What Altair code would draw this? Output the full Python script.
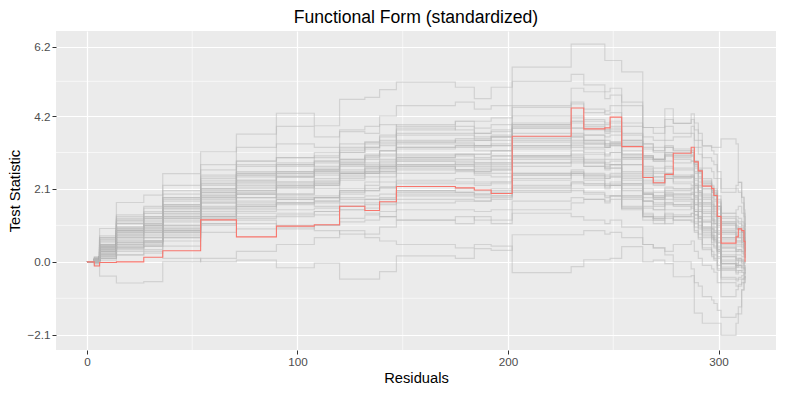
import altair as alt
import pandas as pd

# shared jump positions (residual index)
breaks_x = [0, 3.5, 6, 14, 27, 36, 54, 71, 90, 108,
            120, 132, 139, 147, 175, 184, 192, 202, 230, 236,
            246, 248.5, 254, 264, 269, 274.5, 278.5, 287, 288.5, 290.4,
            292.3, 296.7, 297.8, 299.4, 301.2, 308.3, 309.4, 311, 312.1, 312.6]

observed = [0.0, -0.12, -0.02, 0.0, 0.13, 0.32, 1.21, 0.72, 1.03, 1.07,
            1.60, 1.48, 1.73, 2.17, 2.13, 2.07, 1.97, 3.62, 4.43, 3.83,
            3.86, 4.17, 3.32, 2.43, 2.28, 2.52, 3.13, 3.30, 2.88, 2.62,
            2.18, 2.11, 1.91, 1.31, 0.54, 0.72, 0.95, 0.90, 0.59, 0.0]

sim_paths = [
    [0.0, 0.15, 0.96, 1.71, 1.92, 2.54, 3.17, 3.68, 3.90, 3.60,
     3.75, 3.70, 3.95, 3.90, 4.05, 3.85, 3.95, 4.20, 4.60, 4.30,
     4.35, 4.50, 4.00, 3.40, 3.30, 3.50, 3.60, 3.70, 3.30, 3.10,
     2.70, 2.60, 2.40, 1.90, 1.40, 1.50, 1.60, 1.40, 1.10, 0.60],
    [0.0, 0.10, 0.70, 1.30, 1.60, 2.20, 2.80, 3.30, 4.28, 3.92,
     4.68, 4.74, 4.96, 5.18, 5.03, 4.70, 5.03, 5.20, 5.40, 5.10,
     4.90, 5.00, 4.60, 3.87, 3.70, 4.10, 3.99, 4.10, 3.80, 3.50,
     3.34, 3.20, 3.10, 2.60, 2.10, 2.20, 2.29, 1.86, 1.40, 0.80],
    [0.0, 0.05, 0.50, 1.00, 1.30, 1.80, 2.40, 2.90, 3.40, 3.30,
     3.80, 3.90, 4.20, 4.50, 4.60, 4.40, 4.50, 5.61, 6.27, 6.27,
     5.80, 5.80, 5.47, 3.60, 3.50, 3.90, 3.70, 3.90, 3.50, 3.30,
     3.00, 2.90, 2.80, 2.40, 2.00, 2.10, 2.00, 1.70, 1.30, 0.70],
    [0.0, 0.10, 0.40, 0.90, 1.10, 1.60, 2.10, 2.50, 2.80, 2.90,
     3.20, 3.40, 3.50, 3.80, 3.90, 3.70, 3.80, 4.50, 5.00, 4.90,
     4.70, 4.80, 4.50, 3.87, 3.87, 4.41, 3.99, 4.26, 4.00, 3.70,
     3.34, 3.30, 3.30, 3.30, 3.54, 3.40, 2.29, 1.86, 1.50, 1.00],
    [0.0, -0.10, -0.41, -0.61, -0.57, 0.00, 0.10, 0.30, 0.50, 0.70,
     0.90, 0.80, 1.00, 1.20, 1.10, 1.30, 1.20, 1.50, 1.70, 1.80,
     1.70, 1.90, 1.50, 1.30, 1.20, 1.10, 1.30, 1.40, 1.10, 1.00,
     0.80, 0.70, 0.60, 0.30, -0.20, -0.10, 0.10, 0.00, -0.10, -0.30],
    [0.0, 0.00, 0.10, 0.20, 0.30, 0.10, 0.00, 0.05, -0.17, -0.04,
     -0.50, -0.50, -0.28, 0.17, 0.10, 0.38, 0.33, 0.78, 0.78, 0.90,
     0.80, 0.85, 0.70, 0.50, 0.40, 0.30, 0.50, 0.60, 0.30, 0.10,
     -0.10, -0.20, -0.30, -0.60, -1.00, -0.80, -0.70, -0.50, -0.30, -0.10],
    [0.0, 0.05, 0.20, 0.40, 0.60, 0.90, 1.10, 1.20, 1.00, 0.90,
     0.80, 0.70, 0.60, 0.50, 0.40, 0.50, 0.45, -0.31, -0.14, 0.06,
     0.06, 0.10, 0.44, 0.00, 0.05, -0.05, -0.43, -0.40, -0.60, -0.70,
     -1.00, -1.10, -1.20, -1.40, -1.60, -1.50, -1.30, -0.81, -0.60, -0.40],
    [0.0, 0.05, 0.30, 0.60, 0.70, 1.00, 1.30, 1.50, 1.70, 1.60,
     1.50, 1.40, 1.30, 1.20, 1.30, 1.20, 1.10, 1.40, 1.30, 1.20,
     1.10, 1.20, 1.00, 0.50, 0.40, 0.20, 0.00, -0.20, -1.48, -1.48,
     -1.77, -1.77, -1.77, -1.77, -2.12, -1.77, -1.50, -0.81, -0.60, -0.30],
    [0.0, 0.10, 0.70, 1.25, 1.40, 1.85, 2.45, 2.80, 3.00, 3.15,
     3.40, 3.45, 3.60, 3.85, 3.80, 3.70, 3.75, 4.00, 4.05, 3.95,
     3.80, 3.90, 3.50, 3.05, 2.90, 3.05, 2.95, 2.90, 2.55, 2.30,
     1.95, 1.75, 1.60, 1.30, 0.85, 0.75, 0.70, 0.60, 0.45, 0.30],
    [0.0, 0.00, 0.15, 0.40, 0.45, 0.70, 1.20, 1.30, 1.35, 1.45,
     1.60, 1.70, 1.80, 2.00, 2.00, 1.95, 2.00, 2.20, 2.30, 2.25,
     2.15, 2.20, 1.90, 1.60, 1.50, 1.65, 1.65, 1.70, 1.45, 1.30,
     1.00, 0.85, 0.75, 0.45, 0.05, -0.05, 0.00, -0.05, -0.10, -0.10],
    [0.0, 0.05, 0.50, 0.95, 1.10, 1.55, 2.10, 2.30, 2.45, 2.60,
     2.85, 2.95, 3.05, 3.30, 3.35, 3.35, 3.40, 3.70, 3.85, 3.80,
     3.70, 3.75, 3.40, 3.00, 2.90, 3.05, 3.00, 3.05, 2.75, 2.55,
     2.20, 2.00, 1.90, 1.60, 1.10, 0.95, 0.90, 0.80, 0.60, 0.45],
    [0.0, 0.00, 0.25, 0.55, 0.60, 0.90, 1.40, 1.60, 1.65, 1.70,
     1.85, 1.90, 1.95, 2.05, 2.00, 1.90, 1.90, 2.05, 2.10, 2.00,
     1.90, 1.90, 1.55, 1.20, 1.10, 1.25, 1.20, 1.20, 0.90, 0.70,
     0.40, 0.20, 0.10, -0.20, -0.50, -0.55, -0.50, -0.50, -0.45, -0.40],
    [0.0, 0.05, 0.45, 0.90, 1.05, 1.45, 2.00, 2.20, 2.30, 2.40,
     2.55, 2.60, 2.65, 2.75, 2.65, 2.55, 2.55, 2.75, 2.85, 2.75,
     2.70, 2.80, 2.55, 2.25, 2.20, 2.40, 2.40, 2.45, 2.20, 2.00,
     1.70, 1.55, 1.45, 1.15, 0.70, 0.60, 0.60, 0.55, 0.40, 0.30],
    [0.0, -0.05, 0.05, 0.20, 0.25, 0.45, 0.85, 0.95, 0.95, 1.05,
     1.25, 1.35, 1.45, 1.70, 1.75, 1.75, 1.85, 2.10, 2.25, 2.20,
     2.10, 2.20, 1.90, 1.55, 1.50, 1.70, 1.65, 1.65, 1.35, 1.15,
     0.85, 0.65, 0.55, 0.25, -0.15, -0.25, -0.25, -0.25, -0.25, -0.20],
    [0.0, 0.10, 0.60, 1.10, 1.25, 1.65, 2.25, 2.60, 2.85, 3.00,
     3.30, 3.45, 3.65, 3.95, 4.05, 4.05, 4.15, 4.45, 4.55, 4.40,
     4.25, 4.30, 3.90, 3.40, 3.20, 3.30, 3.20, 3.15, 2.80, 2.60,
     2.25, 2.05, 1.95, 1.60, 1.15, 1.00, 0.95, 0.85, 0.70, 0.50],
    [0.0, 0.05, 0.40, 0.75, 0.85, 1.20, 1.70, 1.85, 1.90, 1.90,
     2.05, 2.10, 2.15, 2.30, 2.30, 2.25, 2.30, 2.55, 2.65, 2.55,
     2.50, 2.55, 2.25, 1.95, 1.90, 2.10, 2.10, 2.15, 1.90, 1.70,
     1.45, 1.25, 1.15, 0.85, 0.45, 0.35, 0.35, 0.30, 0.20, 0.10],
    [0.0, 0.05, 0.45, 0.95, 1.15, 1.55, 2.10, 2.35, 2.45, 2.50,
     2.65, 2.70, 2.75, 2.90, 2.90, 2.80, 2.85, 3.00, 3.05, 2.85,
     2.70, 2.70, 2.25, 1.75, 1.60, 1.70, 1.60, 1.55, 1.25, 1.05,
     0.75, 0.55, 0.45, 0.15, -0.20, -0.30, -0.25, -0.30, -0.35, -0.30],
    [0.0, 0.05, 0.35, 0.65, 0.75, 1.05, 1.60, 1.85, 1.95, 2.10,
     2.40, 2.55, 2.70, 3.00, 3.10, 3.10, 3.20, 3.45, 3.60, 3.50,
     3.40, 3.45, 3.10, 2.70, 2.60, 2.75, 2.70, 2.70, 2.40, 2.20,
     1.90, 1.70, 1.60, 1.30, 0.90, 0.80, 0.80, 0.70, 0.55, 0.40],
    [0.0, 0.10, 0.60, 1.15, 1.30, 1.75, 2.30, 2.50, 2.55, 2.60,
     2.75, 2.80, 2.80, 2.90, 2.80, 2.65, 2.65, 2.85, 2.90, 2.75,
     2.65, 2.70, 2.35, 1.95, 1.85, 2.00, 1.95, 1.95, 1.65, 1.45,
     1.15, 0.95, 0.85, 0.55, 0.15, 0.05, 0.05, 0.05, 0.00, -0.05],
    [0.0, 0.00, 0.20, 0.45, 0.50, 0.75, 1.25, 1.40, 1.40, 1.45,
     1.60, 1.65, 1.70, 1.90, 1.90, 1.85, 1.90, 2.15, 2.30, 2.25,
     2.20, 2.30, 2.05, 1.75, 1.70, 1.90, 1.90, 1.95, 1.65, 1.45,
     1.15, 0.95, 0.85, 0.55, 0.15, 0.05, 0.05, 0.00, -0.05, -0.05],
    [0.0, 0.05, 0.40, 0.85, 0.95, 1.35, 1.95, 2.25, 2.45, 2.65,
     2.95, 3.10, 3.20, 3.40, 3.40, 3.30, 3.35, 3.60, 3.65, 3.50,
     3.40, 3.40, 3.05, 2.60, 2.45, 2.55, 2.45, 2.45, 2.10, 1.90,
     1.60, 1.40, 1.30, 1.00, 0.60, 0.50, 0.50, 0.45, 0.30, 0.20],
    [0.0, 0.00, 0.30, 0.70, 0.80, 1.15, 1.70, 1.95, 2.10, 2.25,
     2.55, 2.65, 2.75, 2.95, 2.95, 2.85, 2.85, 3.05, 3.10, 2.95,
     2.80, 2.80, 2.40, 1.95, 1.80, 1.90, 1.80, 1.80, 1.50, 1.30,
     1.00, 0.80, 0.70, 0.40, 0.00, -0.10, -0.10, -0.15, -0.20, -0.20],
    [0.0, 0.10, 0.75, 1.35, 1.55, 2.05, 2.65, 2.90, 3.00, 3.05,
     3.25, 3.30, 3.35, 3.50, 3.45, 3.35, 3.35, 3.55, 3.60, 3.45,
     3.30, 3.35, 2.95, 2.55, 2.45, 2.55, 2.50, 2.50, 2.20, 2.00,
     1.70, 1.50, 1.40, 1.10, 0.70, 0.60, 0.60, 0.55, 0.40, 0.30],
    [0.0, 0.00, 0.30, 0.55, 0.60, 0.95, 1.50, 1.70, 1.80, 1.85,
     2.05, 2.20, 2.30, 2.55, 2.60, 2.60, 2.70, 3.05, 3.30, 3.30,
     3.30, 3.40, 3.20, 2.95, 2.95, 3.15, 3.15, 3.20, 2.90, 2.70,
     2.40, 2.20, 2.10, 1.80, 1.40, 1.30, 1.25, 1.15, 0.95, 0.70],
    [0.0, 0.05, 0.45, 0.95, 1.05, 1.45, 1.90, 1.95, 1.85, 1.75,
     1.80, 1.80, 1.80, 1.95, 1.95, 1.95, 2.05, 2.35, 2.50, 2.45,
     2.40, 2.45, 2.20, 1.85, 1.80, 1.95, 1.95, 2.00, 1.70, 1.50,
     1.20, 1.00, 0.90, 0.60, 0.20, 0.10, 0.10, 0.05, 0.00, -0.05],
    [0.0, -0.05, 0.10, 0.30, 0.35, 0.60, 1.05, 1.10, 1.05, 1.05,
     1.15, 1.20, 1.30, 1.50, 1.50, 1.45, 1.50, 1.75, 1.85, 1.80,
     1.75, 1.80, 1.55, 1.30, 1.30, 1.50, 1.50, 1.60, 1.35, 1.15,
     0.90, 0.70, 0.60, 0.30, -0.05, -0.15, -0.15, -0.20, -0.20, -0.15],
    [0.0, 0.10, 0.55, 1.10, 1.25, 1.65, 2.25, 2.45, 2.55, 2.70,
     2.95, 3.05, 3.20, 3.45, 3.50, 3.50, 3.60, 3.95, 4.15, 4.05,
     3.95, 4.00, 3.65, 3.25, 3.15, 3.30, 3.20, 3.20, 2.85, 2.60,
     2.25, 2.00, 1.90, 1.55, 1.10, 0.95, 0.95, 0.85, 0.65, 0.50],
    [0.0, 0.00, 0.20, 0.50, 0.55, 0.85, 1.35, 1.55, 1.70, 1.85,
     2.10, 2.30, 2.45, 2.70, 2.75, 2.75, 2.80, 3.05, 3.20, 3.15,
     3.05, 3.15, 2.80, 2.45, 2.35, 2.50, 2.45, 2.45, 2.15, 1.95,
     1.65, 1.45, 1.35, 1.05, 0.65, 0.55, 0.55, 0.50, 0.35, 0.25],
    [0.0, 0.05, 0.45, 0.90, 1.00, 1.40, 2.00, 2.35, 2.60, 2.85,
     3.15, 3.30, 3.45, 3.70, 3.70, 3.60, 3.65, 3.85, 3.85, 3.65,
     3.50, 3.45, 3.00, 2.50, 2.30, 2.40, 2.25, 2.20, 1.90, 1.70,
     1.40, 1.20, 1.10, 0.80, 0.40, 0.30, 0.30, 0.25, 0.15, 0.10],
    [0.0, 0.00, 0.30, 0.55, 0.60, 0.90, 1.45, 1.60, 1.70, 1.75,
     1.95, 2.05, 2.15, 2.35, 2.40, 2.30, 2.30, 2.50, 2.55, 2.40,
     2.25, 2.25, 1.85, 1.40, 1.25, 1.35, 1.30, 1.30, 1.00, 0.80,
     0.50, 0.30, 0.20, -0.10, -0.45, -0.50, -0.45, -0.40, -0.35, -0.30],
    [0.0, 0.00, 0.10, 0.35, 0.45, 0.80, 1.30, 1.65, 1.95, 2.20,
     2.55, 2.75, 2.95, 3.25, 3.35, 3.35, 3.50, 3.85, 4.05, 3.90,
     3.80, 3.85, 3.50, 3.05, 2.95, 3.10, 3.05, 3.10, 2.80, 2.60,
     2.30, 2.10, 2.00, 1.70, 1.25, 1.15, 1.10, 1.00, 0.80, 0.55],
    [0.0, 0.10, 0.65, 1.20, 1.45, 1.95, 2.50, 2.75, 2.80, 2.75,
     2.80, 2.75, 2.70, 2.75, 2.65, 2.50, 2.45, 2.55, 2.55, 2.35,
     2.20, 2.20, 1.80, 1.35, 1.20, 1.30, 1.20, 1.15, 0.85, 0.65,
     0.35, 0.15, 0.05, -0.25, -0.60, -0.70, -0.65, -0.60, -0.50, -0.40],
    [0.0, 0.05, 0.35, 0.80, 0.95, 1.30, 1.85, 2.15, 2.25, 2.35,
     2.60, 2.60, 2.75, 3.00, 3.05, 2.95, 3.05, 3.30, 3.40, 3.25,
     3.10, 3.15, 2.80, 2.35, 2.25, 2.40, 2.30, 2.30, 2.00, 1.80,
     1.50, 1.30, 1.20, 0.90, 0.50, 0.45, 0.45, 0.40, 0.25, 0.15],
    [0.0, 0.05, 0.50, 1.00, 1.20, 1.60, 2.20, 2.55, 2.75, 2.90,
     3.15, 3.25, 3.40, 3.65, 3.65, 3.55, 3.60, 3.90, 4.00, 3.85,
     3.75, 3.80, 3.45, 3.05, 2.95, 3.10, 3.05, 3.05, 2.70, 2.45,
     2.10, 1.85, 1.75, 1.40, 0.95, 0.85, 0.85, 0.75, 0.60, 0.45],
    [0.0, 0.00, 0.25, 0.50, 0.55, 0.85, 1.30, 1.45, 1.50, 1.55,
     1.70, 1.80, 1.85, 2.05, 2.10, 2.05, 2.10, 2.40, 2.55, 2.50,
     2.45, 2.50, 2.25, 1.95, 1.90, 2.05, 2.05, 2.10, 1.85, 1.65,
     1.40, 1.20, 1.10, 0.80, 0.40, 0.30, 0.35, 0.30, 0.20, 0.10],
    [0.0, 0.05, 0.40, 0.85, 1.00, 1.40, 1.90, 2.05, 2.15, 2.30,
     2.50, 2.55, 2.60, 2.80, 2.85, 2.85, 2.95, 3.25, 3.45, 3.40,
     3.30, 3.35, 3.00, 2.65, 2.55, 2.70, 2.65, 2.65, 2.35, 2.15,
     1.85, 1.65, 1.55, 1.25, 0.85, 0.75, 0.75, 0.65, 0.50, 0.35],
    [0.0, 0.00, 0.15, 0.45, 0.55, 0.95, 1.55, 1.95, 2.30, 2.55,
     2.85, 3.00, 3.10, 3.30, 3.30, 3.20, 3.20, 3.35, 3.35, 3.10,
     2.95, 2.95, 2.50, 2.00, 1.85, 1.95, 1.85, 1.80, 1.45, 1.25,
     0.95, 0.75, 0.65, 0.35, -0.05, -0.15, -0.10, -0.15, -0.20, -0.20],
    [0.0, 0.10, 0.65, 1.20, 1.40, 1.85, 2.35, 2.55, 2.60, 2.65,
     2.80, 2.85, 2.90, 3.10, 3.10, 3.00, 3.05, 3.35, 3.50, 3.40,
     3.35, 3.40, 3.10, 2.75, 2.70, 2.90, 2.85, 2.90, 2.60, 2.40,
     2.10, 1.90, 1.80, 1.50, 1.05, 0.95, 0.95, 0.85, 0.70, 0.50],
    [0.0, 0.05, 0.30, 0.70, 0.85, 1.25, 1.75, 2.00, 2.15, 2.20,
     2.35, 2.45, 2.55, 2.65, 2.65, 2.60, 2.65, 2.85, 2.95, 2.85,
     2.75, 2.80, 2.45, 2.10, 2.00, 2.15, 2.10, 2.10, 1.80, 1.60,
     1.30, 1.10, 1.00, 0.70, 0.30, 0.20, 0.20, 0.15, 0.05, 0.00],
    [0.0, 0.05, 0.40, 0.80, 0.90, 1.30, 1.80, 2.05, 2.20, 2.30,
     2.55, 2.70, 2.85, 3.05, 3.10, 3.10, 3.20, 3.50, 3.70, 3.65,
     3.60, 3.65, 3.35, 3.00, 2.95, 3.15, 3.10, 3.15, 2.85, 2.65,
     2.35, 2.15, 2.05, 1.75, 1.30, 1.20, 1.15, 1.05, 0.85, 0.60],
    [0.0, 0.00, 0.20, 0.40, 0.45, 0.70, 1.10, 1.25, 1.30, 1.35,
     1.50, 1.55, 1.65, 1.80, 1.80, 1.75, 1.80, 2.00, 2.05, 1.95,
     1.85, 1.90, 1.60, 1.30, 1.25, 1.40, 1.35, 1.40, 1.15, 0.95,
     0.70, 0.50, 0.40, 0.10, -0.25, -0.35, -0.30, -0.30, -0.30, -0.25],
    [0.0, 0.05, 0.35, 0.75, 0.90, 1.25, 1.85, 2.10, 2.20, 2.25,
     2.45, 2.55, 2.60, 2.80, 2.80, 2.70, 2.75, 2.95, 3.00, 2.90,
     2.85, 2.90, 2.60, 2.30, 2.25, 2.45, 2.45, 2.50, 2.25, 2.05,
     1.80, 1.60, 1.50, 1.20, 0.80, 0.70, 0.70, 0.60, 0.45, 0.30],
    [0.0, 0.05, 0.45, 0.90, 1.05, 1.50, 2.05, 2.30, 2.50, 2.65,
     2.90, 3.05, 3.20, 3.45, 3.55, 3.50, 3.60, 3.95, 4.20, 4.10,
     4.00, 4.05, 3.70, 3.30, 3.20, 3.35, 3.25, 3.25, 2.90, 2.65,
     2.30, 2.05, 1.95, 1.60, 1.15, 1.05, 1.00, 0.90, 0.70, 0.50],
    [0.0, 0.00, 0.25, 0.60, 0.70, 1.05, 1.55, 1.75, 1.80, 1.85,
     2.00, 2.05, 2.10, 2.25, 2.25, 2.20, 2.25, 2.50, 2.60, 2.50,
     2.40, 2.45, 2.10, 1.75, 1.65, 1.80, 1.75, 1.75, 1.45, 1.25,
     0.95, 0.75, 0.65, 0.35, -0.05, -0.10, -0.10, -0.10, -0.15, -0.15],
]

x_major = [0, 100, 200, 300]
x_minor = [50, 150, 250]
y_major = [-2.1, 0.0, 2.1, 4.2, 6.2]
y_minor = [-1.05, 1.05, 3.15, 5.2]

rows = []
for k, path in enumerate(sim_paths):
    for xv, yv in zip(breaks_x, path):
        rows.append({"x": xv, "y": yv, "path": f"sim{k:02d}"})
df_sim = pd.DataFrame(rows)
df_obs = pd.DataFrame({"x": breaks_x, "y": observed})
df_xminor = pd.DataFrame({"x": x_minor})
df_yminor = pd.DataFrame({"y": y_minor})

FONT = "Liberation Sans"
xscale = alt.Scale(domain=[-14.7, 327.3], nice=False, zero=False)
yscale = alt.Scale(domain=[-2.54, 6.65], nice=False, zero=False)

x_axis = alt.Axis(values=x_major, title="Residuals", grid=True, gridColor="white",
                  gridWidth=1.2, domain=False, tickColor="#333333", tickSize=4,
                  labelColor="#4d4d4d", labelFontSize=11.7, labelFont=FONT,
                  labelPadding=2, titleFont=FONT, titleFontSize=14.7,
                  titleColor="black", titleFontWeight="normal", titlePadding=3)
y_axis = alt.Axis(values=y_major, format=".1f", title="Test Statistic", grid=True,
                  gridColor="white", gridWidth=1.2, domain=False, tickColor="#333333",
                  tickSize=4, labelColor="#4d4d4d", labelFontSize=11.7, labelFont=FONT,
                  labelPadding=2, titleFont=FONT, titleFontSize=14.7,
                  titleColor="black", titleFontWeight="normal", titlePadding=4)

sim = alt.Chart(df_sim).mark_line(interpolate="step-after", color="#b3b3b3",
                                  opacity=0.45, strokeWidth=1.2).encode(
    x=alt.X("x:Q", scale=xscale, axis=x_axis),
    y=alt.Y("y:Q", scale=yscale, axis=y_axis),
    detail="path:N")

minor_x = alt.Chart(df_xminor).mark_rule(color="white", strokeWidth=0.6).encode(
    x=alt.X("x:Q", scale=xscale, axis=x_axis))
minor_y = alt.Chart(df_yminor).mark_rule(color="white", strokeWidth=0.6).encode(
    y=alt.Y("y:Q", scale=yscale, axis=y_axis))

obs = alt.Chart(df_obs).mark_line(interpolate="step-after", color="#F8766D",
                                  strokeWidth=1.1).encode(
    x=alt.X("x:Q", scale=xscale, axis=x_axis),
    y=alt.Y("y:Q", scale=yscale, axis=y_axis))

chart = alt.layer(minor_x, minor_y, sim, obs).properties(
    width=720, height=319,
    title=alt.TitleParams("Functional Form (standardized)", font=FONT, fontSize=17.6,
                          fontWeight="normal", color="black", anchor="middle",
                          offset=4),
    padding={"left": 48, "top": 23, "right": 1, "bottom": 35},
    autosize=alt.AutoSizeParams(type="none"),
).configure_view(fill="#ebebeb", stroke=None)

chart.save("out.html", embed_options={"renderer": "svg", "actions": False})
